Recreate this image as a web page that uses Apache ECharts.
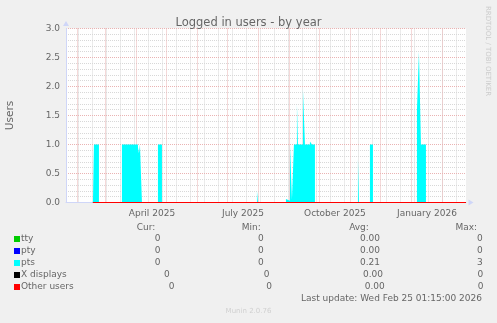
<!DOCTYPE html>
<html><head><meta charset="utf-8">
<script src="https://cdn.jsdelivr.net/npm/echarts@6/dist/echarts.min.js"></script>
<style>html,body{margin:0;padding:0;background:#F0F0F0;}#c{width:497px;height:323px;}</style>
</head><body><div id="c"></div><script>
// ---- data ----
const startTime = Date.UTC(2025, 0, 21, 1, 15);
const endTime = Date.UTC(2026, 1, 25, 1, 15);

// pts: value holds from each date until the next one
const ptsDates = ['2025-02-17','2025-02-18','2025-02-23','2025-03-18','2025-04-03','2025-04-04','2025-04-05','2025-04-07',
  '2025-04-23','2025-04-27','2025-07-31','2025-08-01','2025-08-29','2025-08-31','2025-09-02','2025-09-04','2025-09-06',
  '2025-09-09','2025-09-10','2025-09-15','2025-09-17','2025-09-22','2025-09-24','2025-09-27','2025-10-02','2025-10-03',
  '2025-11-09','2025-11-10','2025-11-21','2025-11-24','2025-12-07','2025-12-08','2026-01-07','2026-01-09','2026-01-11',
  '2026-01-16','2026-02-25'];
const ptsValues = [0,1,0,1,0.95,0.85,1,0,
  1,0,0.2,0,0.06,0.03,1,0.05,1,
  1.7,1,1.95,1,1.05,1,0,0.03,0,
  0.75,0,1,0,0.03,0,1.6,2.6,1,
  0,0];
const zeroDates = ['2025-02-17','2026-02-25'];
const zeroValues = [0, 0];

const legendNames = ['tty','pty','pts','X displays','Other users'];
const legendColors = ['#00CC00','#0000FF','#00FFFF','#000000','#FF0000'];
const curValues = ['0','0','0','0','0'];
const minValues = ['0','0','0','0','0'];
const avgValues = ['0.00','0.00','0.21','0.00','0.00'];
const maxValues = ['0','0','3','0','0'];

const monthStarts = ['2025-02-01','2025-03-01','2025-04-01','2025-05-01','2025-06-01','2025-07-01','2025-08-01',
  '2025-09-01','2025-10-01','2025-11-01','2025-12-01','2026-01-01','2026-02-01'];
const minorDates = ['2025-02-02','2025-02-16','2025-03-02','2025-03-16','2025-03-30','2025-04-13','2025-04-27',
  '2025-05-11','2025-05-25','2025-06-08','2025-06-22','2025-07-06','2025-07-20','2025-08-03','2025-08-17','2025-08-31',
  '2025-09-14','2025-09-28','2025-10-12','2025-10-26','2025-11-09','2025-11-23','2025-12-07','2025-12-21','2026-01-04',
  '2026-01-18','2026-02-01','2026-02-15'];
const xLabelDates = ['2025-04-17','2025-07-17','2025-10-17','2026-01-17'];
const xLabelTexts = ['April 2025','July 2025','October 2025','January 2026'];
const yTicks = [0, 0.5, 1, 1.5, 2, 2.5, 3];

// ---- helpers ----
const ts = s => { const p = s.split('-').map(Number); return Date.UTC(p[0], p[1]-1, p[2]); };
const pairs = (d, v) => d.map((s, i) => [ts(s), v[i]]);
const FONT = '"DejaVu Sans", sans-serif';
const TXT = '#666666';

const chart = echarts.init(document.getElementById('c'), null, {renderer: 'canvas'});

const lineSeries = (name, color, data, area, z) => ({
  name, type: 'line', step: 'end', data, symbol: 'none', animation: false,
  xAxisIndex: 0, yAxisIndex: 0, clip: false,
  lineStyle: area ? {width: 0} : {width: 1, color},
  itemStyle: {color},
  areaStyle: area ? {color, opacity: 1} : undefined,
  z
});

const labelLookup = {};
xLabelDates.forEach((d, i) => { labelLookup[ts(d)] = xLabelTexts[i]; });

const graphic = [];
const rowY = [239, 251, 263, 275, 287];
const curX = [157.7, 157.7, 157.7, 166.8, 171.5];
const minX = [260.8, 260.8, 260.8, 266.7, 269.2];
const avgX = [370, 370, 370, 373, 374.8];
const maxX = [479.8, 479.8, 479.8, 480.3, 480.5];
const t = (text, x, y, align, size, fill) => ({type: 'text', x, y, silent: true,
  style: {text, fill: fill || TXT, font: (size || 9) + 'px ' + FONT, align: align || 'center', verticalAlign: 'middle'}});
graphic.push(t('Cur:', 146, 227.3), t('Min:', 251.3, 227.3), t('Avg:', 359, 227.3), t('Max:', 466.3, 227.3));
legendNames.forEach((n, i) => {
  graphic.push({type: 'rect', silent: true, shape: {x: 14, y: rowY[i] - 3, width: 6, height: 6}, style: {fill: legendColors[i]}});
  graphic.push(t(n, 21, rowY[i], 'left'));
  graphic.push(t(curValues[i], curX[i], rowY[i]));
  graphic.push(t(minValues[i], minX[i], rowY[i]));
  graphic.push(t(avgValues[i], avgX[i], rowY[i]));
  graphic.push(t(maxValues[i], maxX[i], rowY[i]));
});
graphic.push(t('Last update: Wed Feb 25 01:15:00 2026', 482, 298.5, 'right'));
graphic.push(t('Munin 2.0.76', 248.5, 311.5, 'center', 7, '#D0D0D0'));
graphic.push({type: 'text', x: 487.5, y: 51, rotation: -Math.PI / 2, silent: true,
  style: {text: 'RRDTOOL / TOBI OETIKER', fill: '#CCCCCC', font: '7px ' + FONT, align: 'center', verticalAlign: 'middle'}});

const majorColor = '#EAB3B3';
const minorColor = '#D8D8D8';

chart.setOption({
  animation: false,
  backgroundColor: '#F0F0F0',
  title: {text: 'Logged in users - by year', left: 'center', top: 17, padding: 0,
    textStyle: {fontFamily: FONT, fontSize: 11.5, fontWeight: 'normal', color: TXT}},
  grid: {left: 66, top: 28.5, width: 400, height: 174, show: true, backgroundColor: '#FFFFFF', borderWidth: 0,
    containLabel: false, outerBoundsMode: 'none'},
  xAxis: [
    {type: 'value', min: startTime, max: endTime, position: 'bottom', z: 1,
      axisLine: {show: true, onZero: false, lineStyle: {color: '#CFD6F8', width: 1}, symbol: ['none', 'triangle'], symbolSize: [6, 5], symbolOffset: [0, 5]},
      axisTick: {show: false, customValues: monthStarts.map(ts)},
      splitLine: {show: true, lineStyle: {color: majorColor, width: 1, type: [1, 1]}},
      axisLabel: {show: true, customValues: xLabelDates.map(ts), formatter: v => labelLookup[v] || '',
        color: TXT, fontFamily: FONT, fontSize: 9, margin: 7, hideOverlap: false, showMinLabel: true, showMaxLabel: true}},
    {type: 'value', min: startTime, max: endTime, position: 'top', z: 0,
      axisLine: {show: false}, axisLabel: {show: false},
      axisTick: {show: false, customValues: minorDates.map(ts)},
      splitLine: {show: true, lineStyle: {color: minorColor, width: 1, type: [1, 1]}}}
  ],
  yAxis: [
    {type: 'value', min: 0, max: 3, interval: 0.5, position: 'left', z: 1,
      name: 'Users', nameLocation: 'middle', nameGap: 50, nameRotate: 90,
      nameTextStyle: {fontFamily: FONT, fontSize: 10.5, color: TXT},
      axisLine: {show: true, onZero: false, lineStyle: {color: '#CFD6F8', width: 1}, symbol: ['none', 'triangle'], symbolSize: [6, 5], symbolOffset: [0, 5]},
      axisTick: {show: false},
      splitLine: {show: true, lineStyle: {color: majorColor, width: 1, type: [1, 1]}},
      axisLabel: {customValues: yTicks, formatter: v => v.toFixed(1), color: TXT, fontFamily: FONT, fontSize: 9, margin: 6}},
    {type: 'value', min: 0, max: 3, interval: 0.1, position: 'right', z: 0,
      axisLine: {show: false}, axisTick: {show: false}, axisLabel: {show: false},
      splitLine: {show: true, lineStyle: {color: minorColor, width: 1, type: [1, 1]}}}
  ],
  series: [
    lineSeries('pts', legendColors[2], pairs(ptsDates, ptsValues), true, 3),
    lineSeries('tty', legendColors[0], pairs(zeroDates, zeroValues), false, 4),
    lineSeries('pty', legendColors[1], pairs(zeroDates, zeroValues), false, 5),
    lineSeries('X displays', legendColors[3], pairs(zeroDates, zeroValues), false, 6),
    lineSeries('Other users', legendColors[4], pairs(zeroDates, zeroValues), false, 7)
  ],
  graphic
});
</script></body></html>
